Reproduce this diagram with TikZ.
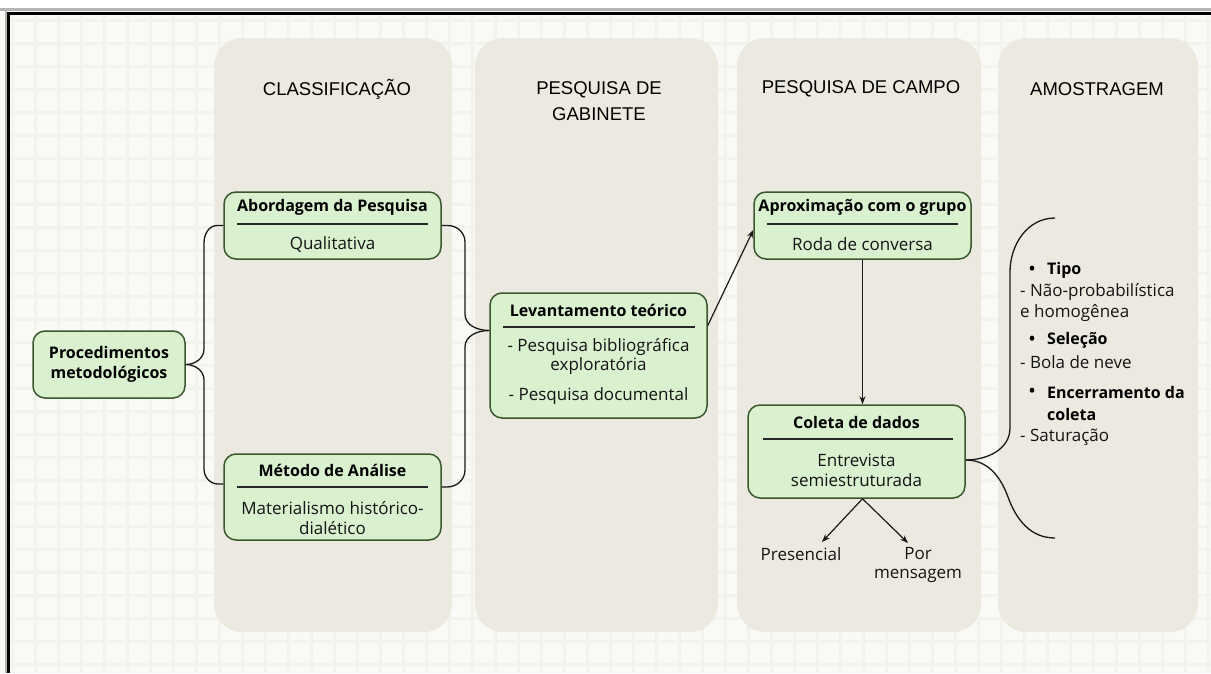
\documentclass[tikz,border=0pt]{standalone}
\usepackage{fontspec}
\setmainfont{Open Sans}
\newfontfamily\titlefont{Liberation Sans}
\usetikzlibrary{arrows.meta,calc}
\definecolor{bgc}{RGB}{249,249,246}
\definecolor{gridc}{RGB}{243,243,238}
\definecolor{colfill}{RGB}{236,234,224}
\definecolor{boxfill}{RGB}{217,241,207}
\definecolor{boxdraw}{RGB}{58,88,46}
\definecolor{framegray}{RGB}{180,180,180}
\tikzset{
  colbox/.style={fill=colfill,draw=none,rounded corners=28pt},
  coltitle/.style={font=\titlefont\fontsize{18.5}{26}\selectfont,text=black,align=center,inner sep=0pt},
  gbox/.style={draw=boxdraw,fill=boxfill,line width=1.5pt,rounded corners=12pt,inner sep=0pt},
  btitle/.style={font=\bfseries\fontsize{16}{20}\selectfont,text=black,inner sep=0pt,align=center},
  btext/.style={font=\fontsize{17}{19.5}\selectfont,text=black!92,inner sep=0pt,align=center},
  atext/.style={font=\fontsize{17}{19.5}\selectfont,text=black!92,inner sep=0pt,anchor=west},
  abold/.style={font=\bfseries\fontsize{16}{19.5}\selectfont,text=black,inner sep=0pt,anchor=west},
  rulel/.style={draw=black!85,line width=1.1pt},
  conn/.style={draw=black!90,line width=1.3pt},
  arr/.style={draw=black!90,line width=1.2pt,-{Stealth[length=8pt,width=6pt]}},
  gridline/.style={draw=gridc,line width=3pt}
}
\begin{document}
\begin{tikzpicture}[x=1pt,y=-1pt]
\useasboundingbox (0,0) rectangle (1211,673);
% background
\fill[bgc] (0,0) rectangle (1211,673);
\foreach \x in {12,35,...,1211} {\draw[gridline] (\x,14) -- (\x,673);}
\foreach \y in {20,43,...,673} {\draw[gridline] (9,\y) -- (1211,\y);}
\fill[white] (0,0) rectangle (1211,8);
\fill[framegray] (0,8) rectangle (1211,11);
\fill[framegray] (5,11) rectangle (7,673);
\fill[black] (7,12) rectangle (1211,14.5);
\fill[black] (7,12) rectangle (9.5,673);
% columns
\fill[colbox] (214,38) rectangle (452,632);
\fill[colbox] (475,38) rectangle (718,632);
\fill[colbox] (737,38) rectangle (981,632);
\fill[colbox] (998,38) rectangle (1198,632);
\node[coltitle] (t1) at (337,89) {CLASSIFICAÇÃO};
\node[coltitle] (t2) at (599,101) {PESQUISA DE\\GABINETE};
\node[coltitle] (t3) at (861,89) {PESQUISA DE CAMPO};
\node[coltitle] (t4) at (1097,89) {AMOSTRAGEM};
% boxes
\node[gbox,minimum width=152pt,minimum height=67pt] (proc) at (109,364.5) {};
\node[btitle] (procT) at (109,364.5) {Procedimentos\\metodológicos};

\node[gbox,minimum width=217pt,minimum height=67pt] (abord) at (332.5,225.5) {};
\node[btitle] (abordT) at (332.5,207) {Abordagem da Pesquisa};
\draw[rulel] (237,224) -- (428,224);
\node[btext] (abordX) at (332.5,244) {Qualitativa};

\node[gbox,minimum width=217pt,minimum height=86pt] (metodo) at (332.5,497) {};
\node[btitle] (metodoT) at (332.5,470) {Método de Análise};
\draw[rulel] (237,487) -- (428,487);
\node[btext] (metodoX) at (332.5,518) {Materialismo histórico-\\dialético};

\node[gbox,minimum width=217pt,minimum height=125pt] (lev) at (598.5,355.5) {};
\node[btitle] (levT) at (598.5,310) {Levantamento teórico};
\draw[rulel] (503,327) -- (695,327);
\node[btext] (levX) at (598.5,356.5) {- Pesquisa bibliográfica\\exploratória};
\node[btext] (levY) at (598.5,396) {- Pesquisa documental};

\node[gbox,minimum width=217pt,minimum height=67pt] (aprox) at (862.5,225.5) {};
\node[btitle] (aproxT) at (862.5,207) {Aproximação com o grupo};
\draw[rulel] (767,224) -- (958,224);
\node[btext] (aproxX) at (862.5,244) {Roda de conversa};

\node[gbox,minimum width=217pt,minimum height=93pt] (coleta) at (856.5,451.5) {};
\node[btitle] (coletaT) at (856.5,422) {Coleta de dados};
\draw[rulel] (763,439) -- (953,439);
\node[btext] (coletaX) at (856.5,470.5) {Entrevista\\semiestruturada};

\node[btext] (pres) at (801,554) {Presencial};
\node[btext] (porm) at (918,565) {Por\\mensagem};

% amostragem text
\node[abold] (b1) at (1029,270) {•};
\node[abold] (tipo) at (1047,270) {Tipo};
\node[atext] (tipo1) at (1020,292) {- Não-probabilística};
\node[atext] (tipo2) at (1020,313) {e homogênea};
\node[abold] (b2) at (1029,340) {•};
\node[abold] (sel) at (1047,340) {Seleção};
\node[atext] (sel1) at (1020,362) {- Bola de neve};
\node[abold] (b3) at (1029,392) {•};
\node[abold] (enc) at (1047,392) {Encerramento da};
\node[abold] (enc2) at (1047,414) {coleta};
\node[atext] (sat) at (1020,437) {- Saturação};

% braces
\draw[conn] (abord.west) -- ++(-6,0) to[out=180,in=90] (204,243) -- (204,349) to[out=-90,in=0] (proc.east);
\draw[conn] (proc.east) to[out=0,in=90] (204,380) -- (204,469) to[out=-90,in=180] (218,484) -- ($(metodo.west)+(0,-13)$);
\coordinate (levtip) at ($(lev.west)+(0,-25)$);
\draw[conn] (abord.east) -- ++(6,0) to[out=0,in=90] (465,242) -- (465,314) to[out=-90,in=180] (levtip);
\draw[conn] (levtip) to[out=180,in=90] (465,347) -- (465,470) to[out=-90,in=0] (447,487) -- ($(metodo.east)+(0,-10)$);
\coordinate (amtip) at ($(coleta.east)+(0,8.5)$);
\coordinate (amtop) at (1055,218);
\coordinate (ambot) at (1055,538);
\draw[conn] (amtip) to[out=0,in=-90] (1010,428) -- (1010,272) to[out=90,in=180] (amtop);
\draw[conn] (amtip) to[out=0,in=110] (1008,497) to[out=-70,in=180] (ambot);
% arrows
\draw[arr] ($(lev.east)+(0,-30)$) -- ($(aprox.west)+(0,4.5)$);
\draw[arr] (aprox.south) -- (aprox.south |- coleta.north);
\coordinate (cb) at ($(coleta.south)+(6,0)$);
\draw[arr] (cb) -- (822,542);
\draw[arr] (cb) -- (908,543);
\end{tikzpicture}
\end{document}
